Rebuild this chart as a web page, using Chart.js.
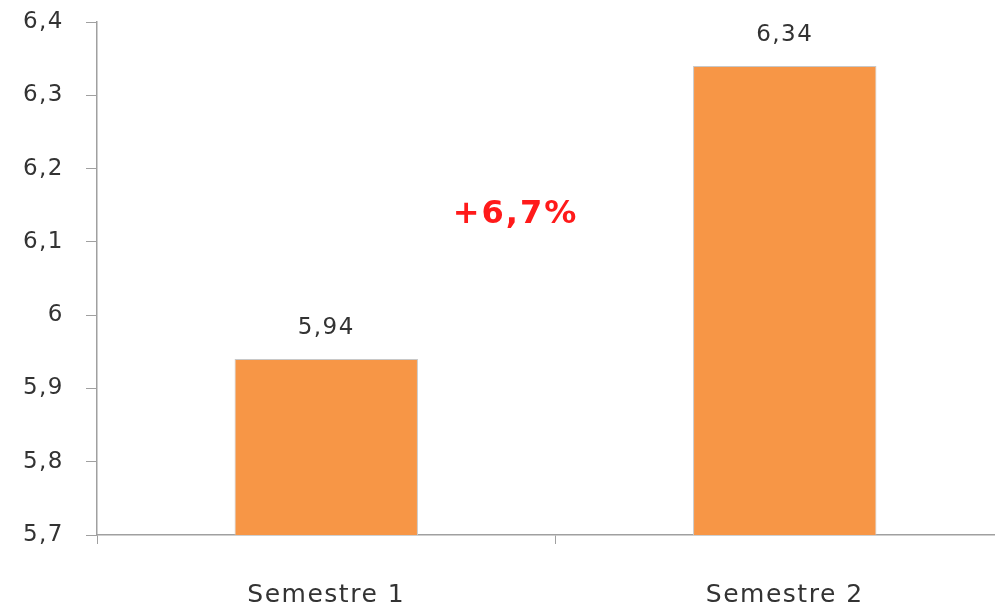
<!DOCTYPE html>
<html>
<head>
<meta charset="utf-8">
<script src="https://cdn.jsdelivr.net/npm/chart.js@4"></script>
<style>
  html, body { margin: 0; padding: 0; background: #fff; overflow: hidden; }
  #wrap { width: 1014px; height: 609px; }
</style>
</head>
<body>
<div id="wrap"><canvas id="grafico"></canvas></div>
<script>
const semestres = ['Semestre 1', 'Semestre 2'];
const valores = [5.94, 6.34];
const marcasY = [5.7, 5.8, 5.9, 6.0, 6.1, 6.2, 6.3, 6.4];
const variacion = '+6,7%';

const coma = v => String(v).replace('.', ',');

// texto algo estirado, como en la imagen original
const espaciado = {
  id: 'espaciado',
  beforeDraw(chart) { chart.ctx.letterSpacing = '1.5px'; }
};

// etiquetas encima de cada barra + el porcentaje en rojo
const etiquetas = {
  id: 'etiquetas',
  afterDatasetsDraw(chart) {
    const c = chart.ctx;
    const meta = chart.getDatasetMeta(0);
    c.save();
    c.letterSpacing = '1.5px';
    c.font = '23px "DejaVu Sans"';
    c.fillStyle = '#333';
    c.textAlign = 'center';
    c.textBaseline = 'middle';
    meta.data.forEach((bar, i) => {
      c.fillText(coma(valores[i]), bar.x, bar.y - 31);
    });
    const x = (meta.data[0].x + meta.data[1].x) / 2 - 40;
    const y = chart.scales.y.getPixelForValue(6.137);
    c.letterSpacing = '2px';
    c.font = 'bold 32px "DejaVu Sans"';
    c.fillStyle = '#ff1a1a';
    c.fillText(variacion, x, y);
    c.restore();
  }
};

new Chart(document.getElementById('grafico'), {
  type: 'bar',
  data: {
    labels: semestres,
    datasets: [{
      data: valores,
      backgroundColor: '#f79646',
      borderColor: '#c8c8c8',
      borderWidth: 1,
      barPercentage: 0.4,
      categoryPercentage: 1
    }]
  },
  options: {
    responsive: true,
    maintainAspectRatio: false,
    animation: false,
    layout: {padding: {top: 22, left: 0, right: 0, bottom: 0}},
    plugins: {
      legend: {display: false},
      tooltip: {enabled: false}
    },
    scales: {
      y: {
        min: 5.7,
        max: 6.4,
        afterBuildTicks: s => { s.ticks = marcasY.map(v => ({value: v})); },
        afterFit: s => { s.width = 97; s.paddingTop = 0; s.paddingBottom = 0; },
        ticks: {
          padding: 22,
          color: '#333',
          font: {family: 'DejaVu Sans', size: 23},
          callback: v => coma(Math.round(v * 10) / 10)
        },
        grid: {drawOnChartArea: false, tickLength: 11, color: '#a0a0a0'},
        border: {color: '#a0a0a0', width: 1.5}
      },
      x: {
        afterFit: s => { s.height = 74; },
        ticks: {
          padding: 36,
          color: '#333',
          font: {family: 'DejaVu Sans', size: 25}
        },
        grid: {drawOnChartArea: false, tickLength: 9, color: '#a0a0a0'},
        border: {color: '#a0a0a0', width: 1.5}
      }
    }
  },
  plugins: [espaciado, etiquetas]
});
</script>
</body>
</html>
